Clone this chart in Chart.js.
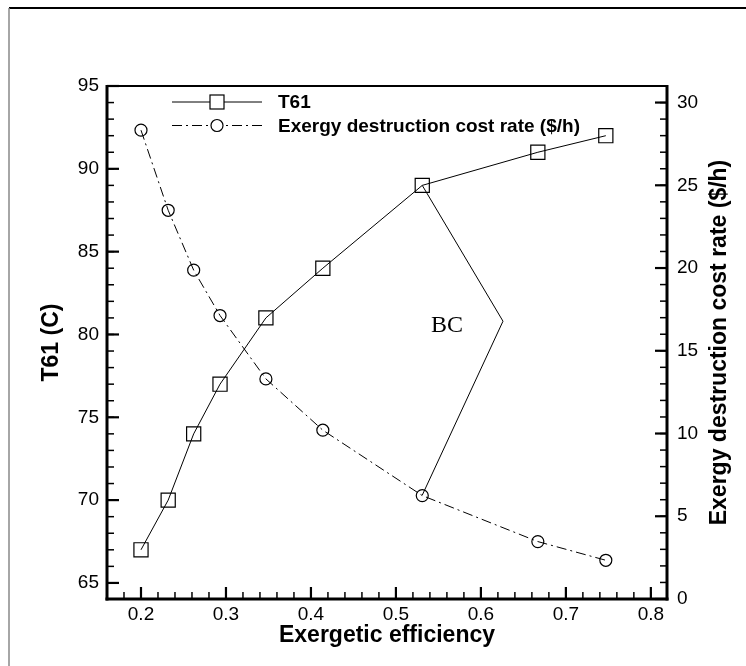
<!DOCTYPE html>
<html>
<head>
<meta charset="utf-8">
<script src="https://cdn.jsdelivr.net/npm/chart.js@4"></script>
<style>
  html, body { margin: 0; padding: 0; background: #fff; }
  canvas { display: block; }
</style>
</head>
<body>
<canvas id="chart" width="746" height="666"></canvas>
<script>
// Exergetic efficiency vs T61 / exergy destruction cost rate

const efficiency = [0.2, 0.232, 0.262, 0.293, 0.347, 0.414, 0.531, 0.667, 0.747];
const t61 = [67, 70, 74, 77, 81, 84, 89, 91, 92];
const costRate = [28.33, 23.49, 19.87, 17.13, 13.3, 10.2, 6.25, 3.47, 2.34];

// "BC" bracket: from the T61 point to the cost point at 0.531
const bcX = [0.531, 0.626, 0.531];
const bcY = [89, 80.8, 70.3];

const xTicks = [0.2, 0.3, 0.4, 0.5, 0.6, 0.7, 0.8];
const leftTicks = [65, 70, 75, 80, 85, 90, 95];
const rightTicks = [0, 5, 10, 15, 20, 25, 30];

const rightTitle = "Exergy destruction cost rate ($/h)";
const FONT = "'Liberation Sans', Arial, sans-serif";

const toPoints = (xs, ys) => xs.map((x, i) => ({ x: x, y: ys[i] }));

// inward ticks, frame, legend and labels
const decor = {
  id: "decor",
  beforeDraw(chart) {
    const ctx = chart.ctx;
    ctx.save();
    ctx.fillStyle = "#fff";
    ctx.fillRect(0, 0, chart.width, chart.height);
    ctx.strokeStyle = "#000";
    ctx.lineWidth = 2;
    ctx.beginPath();
    ctx.moveTo(9, 8);
    ctx.lineTo(chart.width, 8);
    ctx.stroke();
    ctx.strokeStyle = "#888";
    ctx.lineWidth = 1.5;
    ctx.beginPath();
    ctx.moveTo(9, 8);
    ctx.lineTo(9, chart.height);
    ctx.stroke();
    ctx.restore();
  },
  afterDraw(chart) {
    const ctx = chart.ctx;
    const a = chart.chartArea;
    const sx = chart.scales.x, sl = chart.scales.yL, sr = chart.scales.yR;
    ctx.save();
    ctx.strokeStyle = "#000";

    const tick = (x1, y1, x2, y2, w) => {
      ctx.lineWidth = w;
      ctx.beginPath();
      ctx.moveTo(x1, y1);
      ctx.lineTo(x2, y2);
      ctx.stroke();
    };

    // minor ticks
    for (let v = 0.16; v < sx.max; v += 0.02) {
      const px = sx.getPixelForValue(v);
      if (px > a.left + 2 && px < a.right - 2) tick(px, a.bottom, px, a.bottom - 7, 1.5);
    }
    for (let v = 65; v <= 95; v++) {
      const py = sl.getPixelForValue(v);
      if (py > a.top + 2) tick(a.left, py, a.left + 7, py, 1.5);
    }
    for (let v = 0; v <= 31; v++) {
      const py = sr.getPixelForValue(v);
      if (py > a.top + 2 && py < a.bottom - 2) tick(a.right, py, a.right - 7, py, 1.5);
    }
    // major ticks
    xTicks.forEach((v) => {
      const px = sx.getPixelForValue(v);
      tick(px, a.bottom, px, a.bottom - 12, 2.2);
    });
    leftTicks.forEach((v) => {
      const py = sl.getPixelForValue(v);
      tick(a.left, py, a.left + 12, py, 2.2);
    });
    rightTicks.forEach((v) => {
      const py = sr.getPixelForValue(v);
      tick(a.right, py, a.right - 12, py, 2.2);
    });

    // frame
    tick(a.left, a.top, a.right, a.top, 2);
    tick(a.left, a.top - 1, a.left, a.bottom + 1.5, 3);
    tick(a.right, a.top - 1, a.right, a.bottom + 1.5, 3);
    tick(a.left - 1.5, a.bottom, a.right + 1.5, a.bottom, 3);

    // legend
    const ds = chart.data.datasets;
    const rows = [102, 125.5];
    ctx.font = "bold 19px " + FONT;
    ctx.textBaseline = "middle";
    ctx.fillStyle = "#000";
    [0, 1].forEach((i) => {
      const y = rows[i];
      ctx.lineWidth = 1;
      ctx.setLineDash(ds[i].borderDash || []);
      ctx.beginPath();
      ctx.moveTo(172, y);
      ctx.lineTo(262, y);
      ctx.stroke();
      ctx.setLineDash([]);
      ctx.fillStyle = "#fff";
      ctx.lineWidth = 1.2;
      if (ds[i].pointStyle === "rect") {
        ctx.fillRect(210, y - 7, 14, 14);
        ctx.strokeRect(210, y - 7, 14, 14);
      } else {
        ctx.beginPath();
        ctx.arc(217, y, 6, 0, Math.PI * 2);
        ctx.fill();
        ctx.stroke();
      }
      ctx.fillStyle = "#000";
      ctx.fillText(ds[i].label, 278, y + 1);
    });

    // right axis title, reading upward
    ctx.save();
    ctx.translate(720, (a.top + a.bottom) / 2);
    ctx.rotate(-Math.PI / 2);
    ctx.font = "bold 23px " + FONT;
    ctx.textAlign = "center";
    ctx.fillText(rightTitle, 0, 0);
    ctx.restore();

    // BC label
    ctx.font = "24px 'Liberation Serif', 'Times New Roman', serif";
    ctx.textAlign = "center";
    ctx.fillText("BC", sx.getPixelForValue(0.56), sl.getPixelForValue(80.5));
    ctx.restore();
  },
};

new Chart(document.getElementById("chart"), {
  type: "scatter",
  data: {
    datasets: [
      {
        label: "T61",
        data: toPoints(efficiency, t61),
        yAxisID: "yL",
        showLine: true,
        borderColor: "#000",
        borderWidth: 1,
        pointStyle: "rect",
        pointRadius: 10,
        pointBorderWidth: 1.2,
        pointBackgroundColor: "rgba(0,0,0,0)",
        pointBorderColor: "#000",
      },
      {
        label: rightTitle,
        data: toPoints(efficiency, costRate),
        yAxisID: "yR",
        showLine: true,
        borderColor: "#000",
        borderWidth: 1,
        borderDash: [10, 4, 2, 4],
        pointStyle: "circle",
        pointRadius: 6,
        pointBorderWidth: 1.2,
        pointBackgroundColor: "rgba(0,0,0,0)",
        pointBorderColor: "#000",
      },
      {
        label: "BC",
        data: toPoints(bcX, bcY),
        yAxisID: "yL",
        showLine: true,
        borderColor: "#000",
        borderWidth: 1,
        pointRadius: 0,
      },
    ],
  },
  options: {
    responsive: false,
    animation: false,
    layout: { padding: { top: 86, left: 0, right: 0, bottom: 0 } },
    plugins: { legend: { display: false }, tooltip: { enabled: false } },
    scales: {
      x: {
        type: "linear",
        position: "bottom",
        min: 0.16,
        max: 0.819,
        afterBuildTicks: (s) => { s.ticks = xTicks.map((v) => ({ value: v })); },
        afterFit: (s) => { s.height = 67; },
        grid: { display: false, drawTicks: false },
        border: { display: false },
        ticks: {
          color: "#000",
          font: { family: FONT, size: 19 },
          padding: 4,
          maxRotation: 0,
          autoSkip: false,
          callback: (v) => v.toFixed(1),
        },
        title: {
          display: true,
          text: "Exergetic efficiency",
          color: "#000",
          font: { family: FONT, size: 23, weight: "bold" },
          padding: { top: 0, bottom: 17 },
        },
      },
      yL: {
        type: "linear",
        position: "left",
        min: 64.03,
        max: 95,
        afterBuildTicks: (s) => { s.ticks = leftTicks.map((v) => ({ value: v })); },
        afterFit: (s) => { s.width = 107; },
        grid: { display: false, drawTicks: false },
        border: { display: false },
        ticks: { color: "#000", font: { family: FONT, size: 19 }, padding: 8 },
        title: {
          display: true,
          text: "T61 (C)",
          color: "#000",
          font: { family: FONT, size: 23, weight: "bold" },
          padding: { top: 38, bottom: 0 },
        },
      },
      yR: {
        type: "linear",
        position: "right",
        min: 0,
        max: 31,
        afterBuildTicks: (s) => { s.ticks = rightTicks.map((v) => ({ value: v })); },
        afterFit: (s) => { s.width = 79; },
        grid: { display: false, drawTicks: false },
        border: { display: false },
        ticks: { color: "#000", font: { family: FONT, size: 19 }, padding: 10 },
        title: { display: false },
      },
    },
  },
  plugins: [decor],
});
</script>
</body>
</html>
